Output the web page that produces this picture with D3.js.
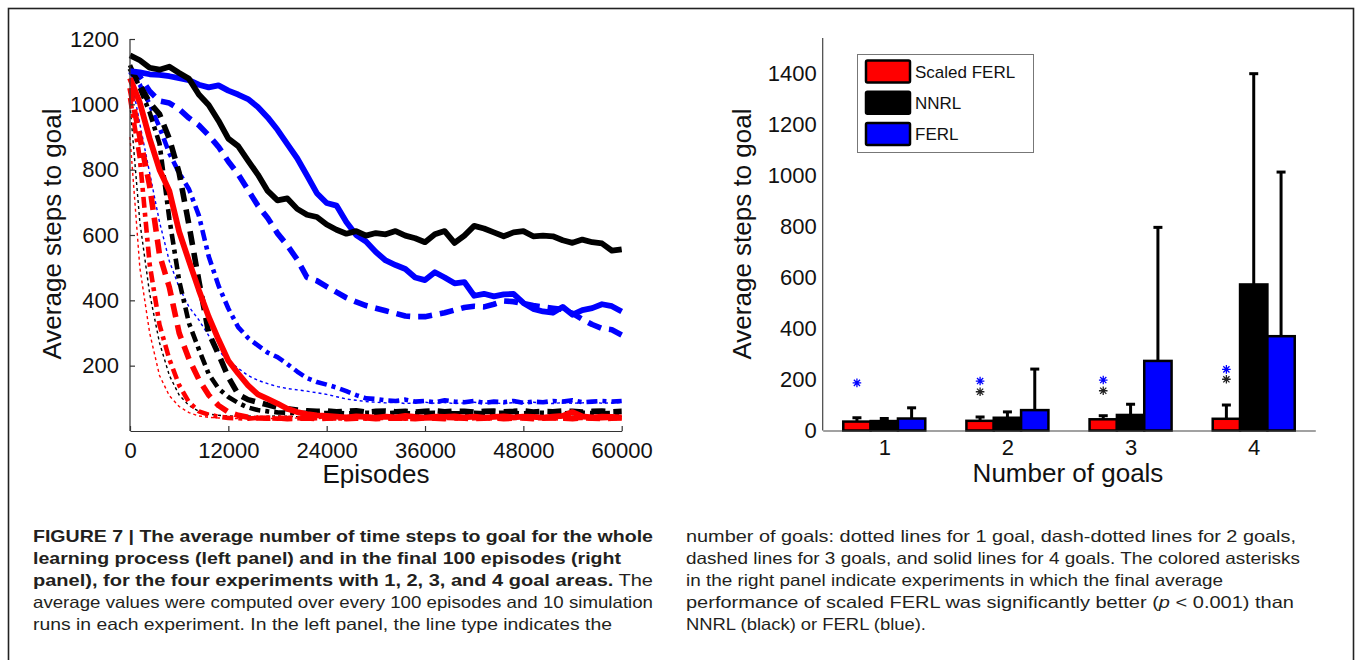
<!DOCTYPE html>
<html>
<head>
<meta charset="utf-8">
<script src="https://cdn.jsdelivr.net/npm/d3@7"></script>
<style>
  html, body { margin: 0; padding: 0; background: #fff; }
  svg { display: block; }
  text { font-family: "Liberation Sans", Arial, Helvetica, sans-serif; }
</style>
</head>
<body>
<svg id="fig" width="1356" height="660"></svg>
<script>
// ---- Learning curves: average steps to goal, sampled every 1200 episodes ----
const episodes = [0,1200,2400,3600,4800,6000,7200,8400,9600,10800,
  12000,13200,14400,15600,16800,18000,19200,20400,21600,22800,
  24000,25200,26400,27600,28800,30000,31200,32400,33600,34800,
  36000,37200,38400,39600,40800,42000,43200,44400,45600,46800,
  48000,49200,50400,51600,52800,54000,55200,56400,57600,58800,60000];

// FERL (blue)
const ferlGoal1 = [1100,940,790,640,520,440,380,340,292,246,
  215,192,170,155,145,136,130,126,122,117,
  112,105,98,94,90,88,86,88,84,86,
  88,85,87,84,86,88,85,86,84,87,
  85,88,86,84,87,85,86,88,85,86,87];
const ferlGoal2 = [1100,1060,1000,930,850,790,740,660,535,445,
  375,318,285,262,240,226,205,182,162,150,
  142,133,122,110,100,98,94,92,96,90,
  92,88,94,90,88,92,86,90,88,92,
  86,90,88,92,90,94,88,90,92,90,92];
const ferlGoal3 = [1100,1085,1040,1010,1004,985,958,936,905,870,
  825,786,738,690,652,605,568,525,470,460,
  442,425,408,395,384,376,368,360,352,350,
  350,356,362,370,378,382,380,388,398,396,
  390,384,380,376,372,360,342,326,314,310,294];
const ferlGoal4 = [1102,1098,1092,1090,1086,1080,1074,1060,1052,1058,
  1042,1030,1016,992,960,922,878,835,782,728,
  698,690,640,600,580,548,522,508,496,470,
  462,486,470,452,456,414,420,412,418,420,
  392,374,366,362,380,356,370,376,388,382,366];

// NNRL (black)
const nnrlGoal1 = [1000,640,420,270,170,110,78,60,52,48,
  46,45,46,44,45,46,45,44,46,45,
  44,45,46,45,44,45,46,44,45,46,
  45,44,45,46,45,44,45,46,45,44,
  46,45,44,45,46,45,44,45,46,45,44];
const nnrlGoal2 = [1120,1050,975,880,650,460,330,250,175,130,
  104,86,72,64,60,57,56,55,56,54,
  55,56,54,55,56,55,54,56,55,54,
  55,56,55,54,55,56,54,55,56,55,
  54,55,56,55,54,55,56,55,54,55,55];
const nnrlGoal3 = [1110,1060,1005,970,895,790,630,460,300,235,
  165,112,96,88,80,72,68,64,62,60,
  61,59,60,62,58,60,61,59,60,58,
  60,62,59,61,60,58,60,61,59,60,
  62,58,60,59,61,60,58,60,61,59,60];
const nnrlGoal4 = [1150,1135,1112,1106,1115,1096,1078,1030,998,950,
  895,872,828,785,735,706,712,680,662,655,
  632,616,604,612,598,606,602,612,598,590,
  578,602,612,576,598,628,620,608,596,608,
  612,596,598,596,584,576,586,578,574,552,556];

// Scaled FERL (red)
const scaledGoal1 = [900,500,300,170,108,75,56,46,42,40,
  39,38,39,40,38,39,38,40,39,38,
  39,40,38,39,38,40,39,38,39,40,
  38,39,40,38,39,38,40,39,38,39,
  40,38,39,38,40,39,38,39,40,38,39];
const scaledGoal2 = [1020,835,510,325,220,140,88,60,50,44,
  40,39,38,40,39,38,40,39,38,39,
  40,38,39,40,38,39,40,39,38,40,
  39,38,40,39,38,39,40,38,39,40,
  39,38,40,39,38,39,40,38,39,40,39];
const scaledGoal3 = [1050,900,750,540,440,300,220,158,110,78,
  58,48,42,40,39,40,38,39,40,38,
  39,40,38,39,40,38,39,40,39,38,
  40,39,38,40,39,38,39,40,38,39,
  40,38,39,40,39,38,40,39,38,39,40];
const scaledGoal4 = [1080,1005,895,800,735,610,520,432,350,280,
  215,176,140,112,98,84,68,58,52,48,
  46,44,42,45,43,41,44,42,46,43,
  41,44,43,45,42,44,41,43,45,42,
  44,43,41,44,46,58,45,42,44,43,42];

const lineXTicks = [0,12000,24000,36000,48000,60000];
const lineYTicks = [200,400,600,800,1000,1200];

// ---- Final 100 episodes: mean and standard deviation per number of goals ----
const goalCounts = [1,2,3,4];
const methodNames = ["Scaled FERL","NNRL","FERL"];
const scaledFinalMean = [35,38,44,46];
const scaledFinalSd   = [15,15,14,54];
const nnrlFinalMean   = [37,50,61,573];
const nnrlFinalSd     = [10,23,42,827];
const ferlFinalMean   = [47,80,273,370];
const ferlFinalSd     = [42,161,524,644];
// asterisk heights above the scaled FERL bar (null = not significant)
const sigVsFerl = [187,194,198,240];
const sigVsNnrl = [null,152,156,201];
const barYTicks = [0,200,400,600,800,1000,1200,1400];

const colors = {scaled: "#ff0000", nnrl: "#000000", ferl: "#0000ff"};

const svg = d3.select("#fig");

// outer figure frame
svg.append("rect").attr("x", 8.5).attr("y", 8.5).attr("width", 1345).attr("height", 700)
  .attr("fill", "none").attr("stroke", "#222").attr("stroke-width", 1.6);

// ================= Left panel: learning curves =================
const xL = d3.scaleLinear().domain([0, 60000]).range([130, 621.7]);
const yL = d3.scaleLinear().domain([0, 1200]).range([431, 39]);

const left = svg.append("g");

const styles = {
  dotted:  {width: 1.4, dash: "3,3"},
  dashdot: {width: 4.6, dash: "11,5,4,5"},
  dashed:  {width: 5.6, dash: "14,8"},
  solid:   {width: 5.8, dash: null}
};

const curves = [
  {values: ferlGoal1, color: colors.ferl, style: "dotted"},
  {values: nnrlGoal1, color: colors.nnrl, style: "dotted"},
  {values: scaledGoal1, color: colors.scaled, style: "dotted"},
  {values: ferlGoal2, color: colors.ferl, style: "dashdot"},
  {values: nnrlGoal2, color: colors.nnrl, style: "dashdot"},
  {values: scaledGoal2, color: colors.scaled, style: "dashdot"},
  {values: ferlGoal3, color: colors.ferl, style: "dashed"},
  {values: nnrlGoal3, color: colors.nnrl, style: "dashed"},
  {values: scaledGoal3, color: colors.scaled, style: "dashed"},
  {values: ferlGoal4, color: colors.ferl, style: "solid"},
  {values: nnrlGoal4, color: colors.nnrl, style: "solid"},
  {values: scaledGoal4, color: colors.scaled, style: "solid"}
];

const line = d3.line().x((d, i) => xL(episodes[i])).y(d => yL(d));

left.selectAll("path.curve").data(curves).join("path")
  .attr("class", "curve")
  .attr("d", c => line(c.values))
  .attr("fill", "none")
  .attr("stroke", c => c.color)
  .attr("stroke-width", c => styles[c.style].width)
  .attr("stroke-dasharray", c => styles[c.style].dash)
  .attr("stroke-linejoin", "round")
  .attr("stroke-linecap", "butt");

// axes (ticks pointing inward)
const axL = left.append("g").attr("transform", `translate(0,${yL(0)})`)
  .call(d3.axisBottom(xL).tickValues(lineXTicks).tickFormat(d3.format("d"))
    .tickSizeInner(-5).tickSizeOuter(0).tickPadding(15));
const ayL = left.append("g").attr("transform", `translate(${xL(0)},0)`)
  .call(d3.axisLeft(yL).tickValues(lineYTicks).tickFormat(d3.format("d"))
    .tickSizeInner(-5).tickSizeOuter(0).tickPadding(11));
ayL.select(".domain").attr("d", `M0,${yL(1200)}V${yL(0)}`);
[axL, ayL].forEach(a => {
  a.select(".domain").attr("stroke", "#333").attr("stroke-width", 1.2);
  a.selectAll(".tick line").attr("stroke", "#333").attr("stroke-width", 1.2);
  a.selectAll(".tick text").attr("font-size", 22).attr("fill", "#111")
    .attr("font-family", "Liberation Sans, Arial, sans-serif");
});
axL.selectAll(".tick text").attr("dy", "0.55em");
left.append("text").attr("x", 376).attr("y", 483).attr("text-anchor", "middle")
  .attr("font-size", 26).attr("fill", "#111").text("Episodes");
left.append("text").attr("transform", "translate(61,234) rotate(-90)")
  .attr("text-anchor", "middle").attr("font-size", 26).attr("fill", "#111")
  .text("Average steps to goal");

// ================= Right panel: final performance bars =================
const xR = d3.scaleLinear().domain([0.5, 4.5]).range([822.7, 1315.3]);
const yR = d3.scaleLinear().domain([0, 1540]).range([430.5, 38]);
const inner = d3.scaleBand().domain(methodNames).range([-0.333, 0.333]).padding(0);

const right = svg.append("g");

const barSeries = [
  {name: "Scaled FERL", mean: scaledFinalMean, sd: scaledFinalSd, color: colors.scaled},
  {name: "NNRL", mean: nnrlFinalMean, sd: nnrlFinalSd, color: colors.nnrl},
  {name: "FERL", mean: ferlFinalMean, sd: ferlFinalSd, color: colors.ferl}
];

const barData = [];
barSeries.forEach(s => goalCounts.forEach((g, i) => {
  barData.push({g, name: s.name, mean: s.mean[i], sd: s.sd[i], color: s.color});
}));

const bx0 = d => xR(d.g + inner(d.name));
const bw = xR(inner.bandwidth()) - xR(0);

// error bars (upper half visible above each bar)
right.selectAll("line.err").data(barData).join("line")
  .attr("class", "err")
  .attr("x1", d => bx0(d) + bw / 2).attr("x2", d => bx0(d) + bw / 2)
  .attr("y1", d => yR(d.mean)).attr("y2", d => yR(d.mean + d.sd))
  .attr("stroke", "#000").attr("stroke-width", 3);
right.selectAll("line.cap").data(barData).join("line")
  .attr("class", "cap")
  .attr("x1", d => bx0(d) + bw / 2 - 4.5).attr("x2", d => bx0(d) + bw / 2 + 4.5)
  .attr("y1", d => yR(d.mean + d.sd)).attr("y2", d => yR(d.mean + d.sd))
  .attr("stroke", "#000").attr("stroke-width", 3);

right.selectAll("rect.bar").data(barData).join("rect")
  .attr("class", "bar")
  .attr("x", d => bx0(d)).attr("width", bw)
  .attr("y", d => yR(d.mean)).attr("height", d => yR(0) - yR(d.mean))
  .attr("fill", d => d.color).attr("stroke", "#000").attr("stroke-width", 2.5);

// axes
const axR = right.append("g").attr("transform", `translate(0,${yR(0)})`)
  .call(d3.axisBottom(xR).tickValues(goalCounts).tickFormat(d3.format("d")).tickSize(0).tickPadding(12));
const ayR = right.append("g").attr("transform", `translate(${xR(0.5)},0)`)
  .call(d3.axisLeft(yR).tickValues(barYTicks).tickFormat(d3.format("d")).tickSize(0).tickPadding(6));
ayR.select(".domain").attr("d", `M0,${yR(1540)}V${yR(0)}`);
[axR, ayR].forEach(a => {
  a.select(".domain").attr("stroke", "#444").attr("stroke-width", 1.2);
  a.selectAll(".tick text").attr("font-size", 22).attr("fill", "#111")
    .attr("font-family", "Liberation Sans, Arial, sans-serif");
});
axR.selectAll(".tick text").attr("dy", "0.55em");

right.append("text").attr("x", 1068).attr("y", 482).attr("text-anchor", "middle")
  .attr("font-size", 26).attr("fill", "#111").text("Number of goals");
right.append("text").attr("transform", "translate(751,234) rotate(-90)")
  .attr("text-anchor", "middle").attr("font-size", 26).attr("fill", "#111")
  .text("Average steps to goal");

// significance asterisks above the scaled FERL bars
function asterisk(g, cx, cy, color) {
  const r = 4.3, q = r * 0.72;
  g.append("path")
    .attr("d", `M${cx - r},${cy}H${cx + r}M${cx},${cy - r}V${cy + r}` +
               `M${cx - q},${cy - q}L${cx + q},${cy + q}M${cx - q},${cy + q}L${cx + q},${cy - q}`)
    .attr("stroke", color).attr("stroke-width", 1.3).attr("fill", "none");
}
goalCounts.forEach((g, i) => {
  const cx = xR(g + inner("Scaled FERL")) + bw / 2;
  if (sigVsFerl[i] != null) asterisk(right, cx, yR(sigVsFerl[i]), colors.ferl);
  if (sigVsNnrl[i] != null) asterisk(right, cx, yR(sigVsNnrl[i]), "#222");
});

// legend
const leg = right.append("g");
leg.append("rect").attr("x", 857.5).attr("y", 54.5).attr("width", 176).attr("height", 98)
  .attr("fill", "#fff").attr("stroke", "#777").attr("stroke-width", 1);
barSeries.forEach((s, i) => {
  const cy = 71.5 + i * 31.3;
  leg.append("rect").attr("x", 866).attr("y", cy - 11).attr("width", 44).attr("height", 22)
    .attr("rx", 1.5).attr("fill", s.color).attr("stroke", "#000").attr("stroke-width", 2.5);
  leg.append("text").attr("x", 915).attr("y", cy + 6).attr("font-size", 17).attr("fill", "#111")
    .text(s.name);
});

// ================= Caption =================
const cap = svg.append("g").attr("fill", "#231f20")
  .attr("font-family", "Liberation Sans, Arial, sans-serif").attr("font-size", 16.5);
const leftLines = [
  {y: 542, w: 620, parts: [["FIGURE 7 | The average number of time steps to goal for the whole", true]]},
  {y: 564, w: 588, parts: [["learning process (left panel) and in the final 100 episodes (right", true]]},
  {y: 586, w: 620, parts: [["panel), for the four experiments with 1, 2, 3, and 4 goal areas.", true], [" The", false]]},
  {y: 608, w: 620, parts: [["average values were computed over every 100 episodes and 10 simulation", false]]},
  {y: 630, w: 579, parts: [["runs in each experiment. In the left panel, the line type indicates the", false]]}
];
const rightLines = [
  {y: 542, w: 610, parts: [["number of goals: dotted lines for 1 goal, dash-dotted lines for 2 goals,", false]]},
  {y: 564, w: 614, parts: [["dashed lines for 3 goals, and solid lines for 4 goals. The colored asterisks", false]]},
  {y: 586, w: 537, parts: [["in the right panel indicate experiments in which the final average", false]]},
  {y: 608, w: 608, parts: [["performance of scaled FERL was significantly better (", false], ["p", "i"], [" < 0.001)  than", false]]},
  {y: 630, w: 240, parts: [["NNRL (black) or FERL (blue).", false]]}
];
function captionLine(x, l) {
  const t = cap.append("text").attr("x", x).attr("y", l.y)
    .attr("textLength", l.w).attr("lengthAdjust", "spacingAndGlyphs");
  l.parts.forEach(([s, b]) => {
    const ts = t.append("tspan").text(s);
    if (b === true) ts.attr("font-weight", "bold");
    if (b === "i") ts.attr("font-style", "italic");
  });
}
leftLines.forEach(l => captionLine(33, l));
rightLines.forEach(l => captionLine(686, l));
</script>
</body>
</html>
